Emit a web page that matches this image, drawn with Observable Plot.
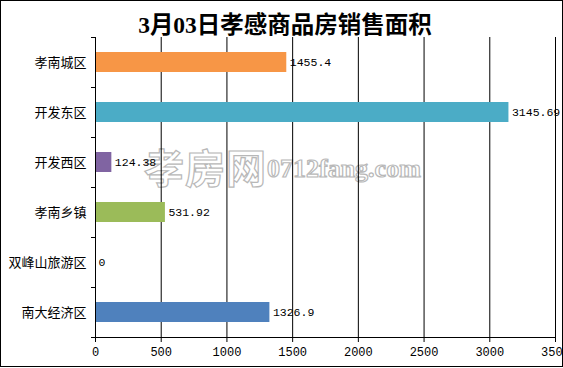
<!DOCTYPE html>
<html>
<head>
<meta charset="utf-8">
<script src="https://cdn.jsdelivr.net/npm/d3@7"></script>
<script src="https://cdn.jsdelivr.net/npm/@observablehq/plot@0.6"></script>
<style>
  html, body { margin: 0; padding: 0; background: #fff; }
  #wrap { position: relative; width: 563px; height: 368px; overflow: hidden; background: #fff; }
  #border { position: absolute; left: 0; top: 0; width: 561px; height: 365px; border: 1px solid #000; pointer-events: none; }
  #title { position: absolute; left: 0; width: 570px; top: 6px; text-align: center;
           font-family: "Liberation Serif", "Noto Sans CJK SC", serif; font-weight: bold; font-size: 23.5px; color: #000; }
  #plot { position: absolute; left: 0; top: 0; }
  .wm { position: absolute; color: rgba(255,255,255,0.75); -webkit-text-stroke: 1.2px #b8b8b8; pointer-events: none; white-space: nowrap; }
  #wm1 { left: 144px; top: 142px; font-family: "Noto Sans CJK SC", sans-serif; font-size: 40px; font-weight: bold; letter-spacing: 1px; line-height: 48px; }
  #wm2 { left: 267px; top: 154px; font-family: "Liberation Serif", serif; font-size: 26px; font-weight: bold; line-height: 30px; }
</style>
</head>
<body>
<div id="wrap">
  <div id="wm1" class="wm">孝房网</div>
  <div id="wm2" class="wm">0712fang.com</div>
  <div id="plot"></div>
  <div id="title">3月03日孝感商品房销售面积</div>
  <div id="border"></div>
</div>
<script>
const categories = ["孝南城区", "开发东区", "开发西区", "孝南乡镇", "双峰山旅游区", "南大经济区"];
const values = [1455.4, 3145.69, 124.38, 531.92, 0, 1326.9];
const valueLabels = ["1455.4", "3145.69", "124.38", "531.92", "0", "1326.9"];
const colors = ["#F79646", "#4BACC6", "#8064A2", "#9BBB59", "#C0504D", "#4F81BD"];
const xTicks = [0, 500, 1000, 1500, 2000, 2500, 3000, 3500];

const rows = categories.map((c, i) => ({category: c, value: values[i], label: valueLabels[i]}));

const numFont = "Liberation Mono, DejaVu Sans Mono, monospace";
const cjkFont = "Noto Sans CJK SC, sans-serif";

const chart = Plot.plot({
  width: 563,
  height: 368,
  marginTop: 37,
  marginBottom: 31,
  marginLeft: 95,
  marginRight: 8,
  style: {fontFamily: numFont, fontSize: "12px", color: "#000", background: "transparent", overflow: "visible"},
  x: {domain: [0, 3500]},
  y: {domain: categories, paddingInner: 0.6, paddingOuter: 0.3},
  color: {domain: categories, range: colors},
  marks: [
    Plot.gridX(xTicks, {stroke: "#000", strokeOpacity: 1, strokeWidth: 1}),
    Plot.barX(rows, {x: "value", y: "category", fill: "category"}),
    Plot.text(rows, {x: "value", y: "category", text: "label", textAnchor: "start", dx: 3, fontFamily: numFont, fontSize: 11.5, letterSpacing: "-0.6px", fill: "#000"}),
    Plot.frame({anchor: "bottom", stroke: "#000"}),
    Plot.frame({anchor: "left", stroke: "#000"}),
    Plot.axisX(xTicks, {tickSize: 5, tickPadding: 5, tickFormat: "d", label: null, fontFamily: numFont, fontSize: 12, letterSpacing: "-0.7px"}),
    Plot.axisY({tickSize: 0, tickPadding: 9, label: null, fontFamily: cjkFont, fontSize: 13}),
    Plot.axisY(categories, {tickSize: 4, text: null, dy: -25, label: null}),
    Plot.axisY([categories[categories.length - 1]], {tickSize: 4, text: null, dy: 25, label: null})
  ]
});
document.getElementById("plot").appendChild(chart);
</script>
</body>
</html>
